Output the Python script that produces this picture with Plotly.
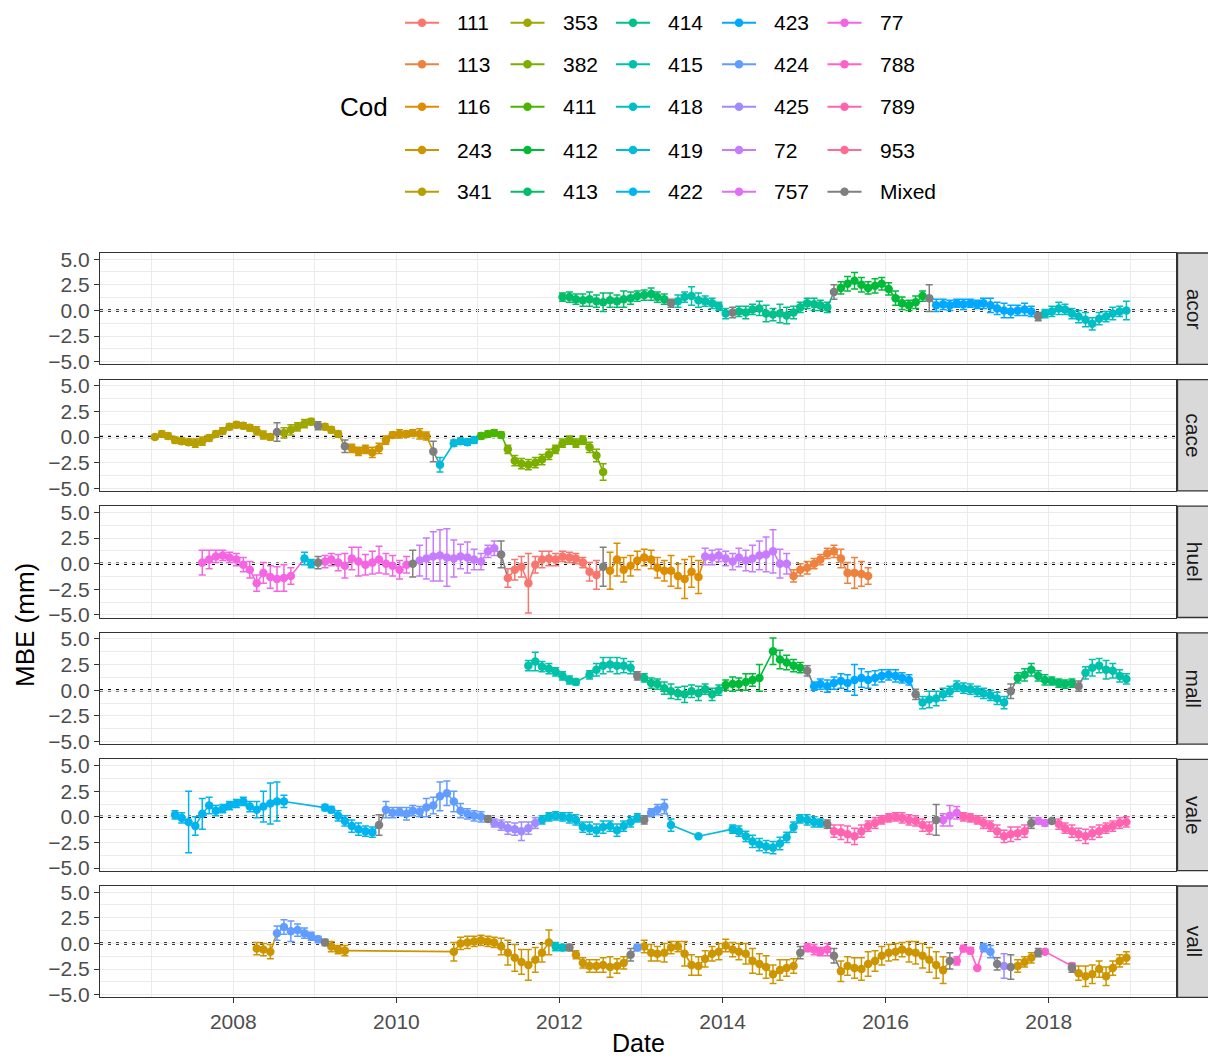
import math
import pandas as pd
import plotly.graph_objects as go

# ---------------- data ----------------
cods = ["111", "113", "116", "243", "341", "353", "382", "411", "412", "413", "414", "415",
        "418", "419", "422", "423", "424", "425", "72", "757", "77", "788", "789", "953", "Mixed"]
sites = ["acor", "cace", "huel", "mall", "vale", "vall"]

acor_cod = ["413", "Mixed", "415", "Mixed", "414", "Mixed", "412", "Mixed", "423", "Mixed", "418"]
acor_start = ["2012-01", "2013-05", "2013-06", "2014-02", "2014-03", "2015-05", "2015-06", "2016-07",
              "2016-08", "2017-11", "2017-12"]
acor_mbe = [[1.3, 1.3, 1.1, 1.0, 1.1, 0.9, 0.8, 1.0, 0.9, 1.1, 1.2, 1.4, 1.5, 1.6, 1.3, 1.1],
            [0.7],
            [0.9, 1.3, 1.4, 1.0, 0.9, 0.7, 0.4, -0.3],
            [-0.2],
            [-0.1, -0.2, 0.1, 0.2, -0.3, -0.4, -0.3, -0.5, -0.2, 0.3, 0.7, 0.6, 0.5, 0.3],
            [1.8],
            [2.2, 2.6, 2.9, 2.5, 2.2, 2.4, 2.6, 2.1, 1.2, 0.7, 0.5, 0.8, 1.4],
            [1.2],
            [0.5, 0.6, 0.5, 0.7, 0.6, 0.7, 0.6, 0.7, 0.5, 0.2, 0.0, -0.1, 0.0, 0.1, -0.1],
            [-0.6],
            [-0.3, -0.1, 0.2, 0.1, -0.3, -0.6, -0.9, -1.3, -0.8, -0.6, -0.3, -0.1, 0.0]]
acor_sd = [[0.4, 0.5, 0.5, 0.6, 0.7, 0.6, 0.9, 0.7, 0.6, 0.8, 0.6, 0.5, 0.5, 0.6, 0.5, 0.5],
           [0.4],
           [0.6, 0.5, 0.9, 0.7, 0.5, 0.5, 0.4, 0.5],
           [0.5],
           [0.5, 0.6, 0.5, 0.7, 0.8, 0.6, 0.9, 0.8, 0.6, 0.5, 0.5, 0.6, 0.5, 0.5],
           [0.7],
           [0.6, 0.7, 0.8, 0.7, 0.6, 0.7, 0.6, 0.6, 0.7, 0.6, 0.5, 0.6, 0.5],
           [1.3],
           [0.6, 0.5, 0.5, 0.4, 0.5, 0.4, 0.4, 0.5, 0.7, 0.6, 0.7, 0.6, 0.5, 0.6, 0.5],
           [0.4],
           [0.4, 0.5, 0.6, 0.5, 0.5, 0.6, 0.7, 0.6, 0.6, 0.5, 0.6, 0.5, 0.9]]

cace_cod = ["341", "Mixed", "353", "Mixed", "341", "Mixed", "243", "Mixed", "419", "419", "411", "382"]
cace_start = ["2007-01", "2008-07", "2008-08", "2009-01", "2009-02", "2009-05", "2009-06", "2010-06",
              "2010-07", "2010-09", "2011-01", "2011-05"]
cace_mbe = [[0.0, 0.3, 0.1, -0.3, -0.4, -0.5, -0.6, -0.4, -0.1, 0.3, 0.6, 1.0, 1.2, 1.1, 0.9, 0.6, 0.2, 0.0],
            [0.5],
            [0.4, 0.7, 1.0, 1.3, 1.5],
            [1.1],
            [1.0, 0.7, 0.3],
            [-0.9],
            [-1.1, -1.4, -1.2, -1.5, -1.1, -0.3, 0.2, 0.3, 0.3, 0.4, 0.3, 0.1],
            [-1.4],
            [-2.7],
            [-0.6, -0.4, -0.5, -0.3],
            [0.1, 0.3, 0.4, 0.2],
            [-1.2, -2.3, -2.6, -2.7, -2.5, -2.2, -1.7, -1.2, -0.6, -0.3, -0.6, -0.3, -1.0, -1.8, -3.4]]
cace_sd = [[0.2, 0.3, 0.3, 0.3, 0.3, 0.3, 0.4, 0.4, 0.3, 0.3, 0.3, 0.3, 0.3, 0.3, 0.3, 0.4, 0.4, 0.3],
           [0.9],
           [0.5, 0.5, 0.4, 0.4, 0.3],
           [0.4],
           [0.3, 0.3, 0.3],
           [0.6],
           [0.4, 0.4, 0.4, 0.5, 0.5, 0.4, 0.3, 0.4, 0.3, 0.3, 0.5, 0.4],
           [1.0],
           [0.7],
           [0.3, 0.3, 0.3, 0.3],
           [0.3, 0.3, 0.3, 0.3],
           [0.4, 0.5, 0.5, 0.5, 0.5, 0.5, 0.5, 0.4, 0.4, 0.4, 0.4, 0.4, 0.5, 0.6, 0.8]]

huel_cod = ["77", "419", "Mixed", "77", "Mixed", "72", "Mixed", "111", "Mixed", "116", "72", "113"]
huel_start = ["2007-08", "2008-11", "2009-01", "2009-02", "2010-03", "2010-04", "2011-04", "2011-05",
              "2012-07", "2012-08", "2013-10", "2014-11"]
huel_mbe = [[0.1, 0.4, 0.7, 0.8, 0.6, 0.4, -0.1, -0.6, -1.9, -0.9, -1.3, -1.5, -1.4, -1.2],
            [0.5, 0.0],
            [0.1],
            [0.2, 0.4, 0.1, -0.2, 0.5, 0.2, -0.1, 0.1, 0.4, 0.0, -0.2, -0.6, -0.1],
            [0.0],
            [0.3, 0.5, 0.7, 0.8, 0.6, 0.5, 0.7, 0.6, 0.4, 0.2, 1.2, 1.5],
            [0.9],
            [-1.4, -0.6, -0.3, -1.9, -0.1, 0.4, 0.5, 0.4, 0.7, 0.6, 0.5, 0.1, -0.8, -1.1],
            [-0.3],
            [-0.7, 0.4, -0.6, -0.2, 0.3, 0.6, 0.4, -0.4, -0.7, -0.7, -1.2, -1.5, -0.8, -1.3],
            [0.7, 0.6, 0.8, 0.5, 0.2, 0.6, 0.3, 0.5, 0.8, 0.9, 1.2, 0.0, 0.0],
            [-1.2, -0.6, -0.4, 0.0, 0.4, 1.0, 1.2, 0.5, -0.9, -0.9, -1.0, -1.2]]
huel_sd = [[1.2, 0.9, 0.6, 0.5, 0.5, 0.6, 0.7, 0.8, 0.8, 1.0, 1.1, 1.2, 1.3, 0.8],
           [0.6, 0.4],
           [0.6],
           [0.6, 0.6, 0.8, 1.2, 1.1, 1.4, 1.0, 1.1, 1.3, 1.0, 1.0, 0.9, 0.8],
           [1.3],
           [1.5, 2.0, 2.4, 2.5, 2.8, 1.8, 1.2, 1.5, 1.0, 0.8, 0.6, 0.7],
           [1.3],
           [0.9, 1.0, 1.0, 2.9, 0.8, 0.8, 0.7, 0.6, 0.5, 0.5, 0.5, 0.5, 0.9, 1.4],
           [1.9],
           [1.8, 1.6, 1.2, 1.0, 0.9, 0.8, 0.9, 1.0, 1.0, 1.5, 1.2, 1.9, 1.5, 1.6],
           [0.8, 0.7, 0.6, 0.7, 0.8, 0.9, 1.0, 1.3, 1.4, 1.7, 2.1, 1.4, 1.0],
           [0.6, 0.6, 0.6, 0.5, 0.5, 0.5, 0.6, 0.9, 1.0, 1.5, 1.2, 0.8]]

mall_cod = ["415", "415", "Mixed", "414", "412", "412", "Mixed", "423", "Mixed", "418", "Mixed", "413",
            "Mixed", "415"]
mall_start = ["2011-08", "2012-05", "2012-12", "2013-01", "2014-01", "2014-08", "2015-01", "2015-02",
              "2016-05", "2016-06", "2017-07", "2017-08", "2018-05", "2018-06"]
mall_mbe = [[2.4, 2.8, 2.3, 2.1, 1.8, 1.4, 1.0, 0.8],
            [1.5, 2.0, 2.4, 2.5, 2.4, 2.4, 2.2],
            [1.4],
            [1.2, 0.7, 0.6, 0.2, -0.1, -0.3, -0.4, -0.1, -0.3, 0.1, -0.4, 0.0],
            [0.5, 0.6, 0.6, 0.8, 1.0, 1.2],
            [3.8, 3.0, 2.7, 2.4, 2.2],
            [1.9],
            [0.4, 0.6, 0.4, 0.7, 0.9, 0.7, 1.0, 1.2, 1.0, 1.2, 1.4, 1.5, 1.4, 1.2, 1.0],
            [-0.4],
            [-1.2, -0.9, -0.8, -0.4, -0.1, 0.4, 0.2, 0.1, -0.1, -0.3, -0.5, -0.8, -1.2],
            [-0.1],
            [1.2, 1.5, 2.0, 1.4, 1.0, 0.9, 0.7, 0.6, 0.7],
            [0.4],
            [1.7, 2.2, 2.4, 2.0, 1.9, 1.4, 1.1]]
mall_sd = [[0.5, 0.9, 0.5, 0.5, 0.4, 0.4, 0.4, 0.3],
           [0.4, 0.6, 0.8, 0.7, 0.8, 0.7, 0.6],
           [0.4],
           [0.4, 0.5, 0.5, 0.6, 0.7, 0.6, 0.8, 0.6, 0.7, 0.5, 0.6, 0.5],
           [0.5, 0.7, 0.6, 0.8, 0.6, 1.3],
           [1.3, 0.9, 0.7, 0.6, 0.5],
           [0.5],
           [0.4, 0.5, 0.6, 0.6, 0.7, 0.8, 1.5, 0.9, 0.8, 0.7, 0.6, 0.5, 0.6, 0.5, 0.5],
           [0.5],
           [0.6, 0.8, 0.7, 0.6, 0.5, 0.5, 0.5, 0.5, 0.5, 0.5, 0.5, 0.6, 0.6],
           [0.7],
           [0.5, 0.6, 0.6, 0.5, 0.5, 0.4, 0.4, 0.4, 0.4],
           [0.5],
           [0.6, 0.8, 0.7, 0.9, 0.7, 0.6, 0.5]]

vale_cod = ["422", "422", "Mixed", "424", "Mixed", "425", "419", "Mixed", "424", "419", "419", "419",
            "Mixed", "789", "Mixed", "757", "789", "Mixed", "757", "Mixed", "789"]
vale_start = ["2007-04", "2009-02", "2009-10", "2009-11", "2011-02", "2011-03", "2011-10", "2013-01",
              "2013-02", "2013-05", "2013-09", "2014-02", "2015-04", "2015-05", "2016-08", "2016-09",
              "2016-12", "2017-10", "2017-11", "2018-01", "2018-02"]
vale_mbe = [[0.2, -0.1, -0.5, -0.9, 0.3, 1.1, 0.6, 0.8, 1.1, 1.3, 1.5, 1.0, 0.7, 1.0, 1.3, 1.5, 1.5],
            [0.9, 0.7, 0.1, -0.4, -0.9, -1.2, -1.4, -1.5],
            [-0.8],
            [0.7, 0.4, 0.5, 0.3, 0.6, 0.5, 0.9, 1.1, 2.0, 2.3, 1.5, 0.6, 0.3, 0.1, 0.0],
            [-0.2],
            [-0.6, -0.8, -1.1, -1.2, -1.4, -1.1, -0.6],
            [-0.3, 0.0, 0.1, 0.0, -0.1, -0.3, -1.0, -1.1, -1.3, -1.0, -0.9, -1.3, -0.9, -0.5, -0.1],
            [-0.3],
            [0.4, 0.7, 1.0],
            [-0.8],
            [-1.9],
            [-1.2, -1.4, -1.9, -2.4, -2.7, -2.9, -3.0, -2.6, -2.0, -1.0, -0.2, -0.3, -0.5, -0.6],
            [-0.7],
            [-1.4, -1.5, -1.7, -1.9, -1.4, -0.9, -0.6, -0.3, -0.1, 0.0, -0.1, -0.3, -0.4, -0.8, -1.1],
            [-0.3],
            [-0.3, 0.1, 0.4],
            [0.0, -0.1, -0.3, -0.6, -0.9, -1.4, -1.9, -1.7, -1.6, -1.4],
            [-0.6],
            [-0.4, -0.6],
            [-0.4],
            [-0.7, -1.1, -1.4, -1.7, -1.9, -1.6, -1.4, -1.1, -0.9, -0.6, -0.5]]
vale_sd = [[0.4, 0.5, 3.0, 0.9, 1.5, 0.8, 0.5, 0.4, 0.4, 0.4, 0.4, 0.5, 0.8, 1.5, 2.0, 1.9, 0.6],
           [0.3, 0.3, 0.5, 0.5, 0.6, 0.6, 0.5, 0.5],
           [1.0],
           [0.8, 0.5, 0.4, 0.6, 0.5, 0.5, 0.9, 0.8, 1.4, 1.2, 1.0, 0.7, 0.5, 0.5, 0.5],
           [0.3],
           [0.4, 0.5, 0.6, 0.6, 0.9, 0.6, 0.5],
           [0.4, 0.4, 0.4, 0.4, 0.5, 0.5, 0.5, 0.6, 0.6, 0.6, 0.5, 0.6, 0.5, 0.5, 0.4],
           [0.4],
           [0.4, 0.5, 0.7],
           [0.6],
           [0.0],
           [0.4, 0.5, 0.5, 0.6, 0.6, 0.6, 0.6, 0.6, 0.5, 0.5, 0.4, 0.5, 0.5, 0.4],
           [0.4],
           [0.6, 0.7, 0.8, 0.8, 0.6, 0.5, 0.5, 0.4, 0.4, 0.4, 0.5, 0.5, 0.5, 0.6, 0.6],
           [1.5],
           [0.6, 1.0, 0.6],
           [0.4, 0.4, 0.4, 0.5, 0.5, 0.6, 0.6, 0.7, 0.6, 0.6],
           [0.5],
           [0.3, 0.3],
           [0.2],
           [0.5, 0.5, 0.6, 0.6, 0.7, 0.6, 0.6, 0.5, 0.5, 0.5, 0.5]]

vall_cod = ["243", "424", "Mixed", "243", "243", "418", "Mixed", "243", "Mixed", "424", "243", "Mixed",
            "788", "Mixed", "243", "Mixed", "788", "424", "Mixed", "425", "Mixed", "243", "Mixed", "788",
            "788", "Mixed", "243"]
vall_start = ["2008-04", "2008-07", "2009-02", "2009-03", "2010-09", "2011-12", "2012-02", "2012-03",
              "2012-11", "2012-12", "2013-01", "2014-12", "2015-01", "2015-05", "2015-06", "2016-10",
              "2016-11", "2017-03", "2017-05", "2017-06", "2017-07", "2017-08", "2017-11", "2017-12",
              "2018-04", "2018-04", "2018-05"]
vall_mbe = [[-0.5, -0.6, -0.8],
            [1.0, 1.6, 1.2, 1.3, 1.0, 0.7, 0.4],
            [0.1],
            [-0.3, -0.6, -0.7],
            [-0.8, 0.0, 0.1, 0.2, 0.3, 0.2, 0.1, -0.3, -0.9, -1.4, -1.8, -2.1, -1.6, -0.9, 0.1],
            [-0.3, -0.4],
            [-0.4],
            [-1.1, -1.9, -2.2, -2.2, -2.1, -2.3, -2.2, -1.9],
            [-1.1],
            [-0.4],
            [-0.3, -0.9, -1.0, -0.9, -0.4, -0.3, -1.0, -2.1, -2.2, -1.5, -1.0, -0.8, -0.2, -0.6, -0.8,
             -1.0, -1.7, -2.0, -2.3, -3.0, -2.6, -2.4, -2.2],
            [-0.9],
            [-0.4, -0.6, -0.8, -0.6],
            [-1.2],
            [-2.7, -2.2, -2.4, -2.5, -2.0, -1.7, -1.2, -0.9, -0.8, -0.6, -0.8, -0.9, -1.2, -1.6, -2.1, -2.6],
            [-1.7],
            [-1.7, -0.5, -0.7, -2.4],
            [-0.4, -0.8],
            [-2.0],
            [-2.2],
            [-2.3],
            [-2.2, -1.8, -1.4],
            [-0.9],
            [-0.8],
            [-2.2],
            [-2.4],
            [-2.9, -3.2, -3.0, -2.5, -3.2, -2.4, -1.7, -1.4]]
vall_sd = [[0.6, 0.6, 0.7],
           [0.7, 0.7, 1.0, 0.6, 0.5, 0.4, 0.3],
           [0.3],
           [0.5, 0.4, 0.5],
           [0.9, 0.6, 0.6, 0.5, 0.5, 0.5, 0.5, 0.8, 1.2, 1.3, 1.2, 1.5, 1.2, 0.9, 1.2],
           [0.4, 0.3],
           [0.3],
           [0.4, 0.5, 0.6, 0.6, 0.7, 1.0, 0.7, 0.6],
           [0.6],
           [0.3],
           [0.6, 0.8, 0.7, 0.9, 0.6, 0.5, 1.2, 1.0, 0.9, 0.8, 0.7, 0.8, 0.6, 0.7, 0.8, 1.0, 1.2, 1.0,
            1.1, 0.9, 1.0, 0.8, 0.7],
           [0.6],
           [0.4, 0.5, 0.4, 0.6],
           [0.7],
           [1.0, 0.9, 1.0, 1.1, 1.2, 1.0, 0.9, 0.8, 0.8, 0.7, 1.0, 1.1, 1.2, 1.2, 1.3, 1.3],
           [0.8],
           [0.4, 0.3, 0.3, 0.0],
           [0.4, 0.6],
           [0.6],
           [1.2],
           [1.2],
           [0.6, 0.5, 0.5],
           [0.4],
           [0.2],
           [0.3],
           [0.4],
           [0.7, 1.0, 0.9, 0.8, 0.9, 0.7, 0.6, 0.6]]

site_cod = [acor_cod, cace_cod, huel_cod, mall_cod, vale_cod, vall_cod]
site_start = [acor_start, cace_start, huel_start, mall_start, vale_start, vall_start]
site_mbe = [acor_mbe, cace_mbe, huel_mbe, mall_mbe, vale_mbe, vall_mbe]
site_sd = [acor_sd, cace_sd, huel_sd, mall_sd, vale_sd, vall_sd]


# ---------------- colours (ggplot2 hue palette) ----------------
def hcl_hex(h, c=100.0, l=65.0):
    hr = math.radians(h)
    U, V = c * math.cos(hr), c * math.sin(hr)
    Xn, Yn, Zn = 0.95047, 1.0, 1.08883
    den = Xn + 15 * Yn + 3 * Zn
    un, vn = 4 * Xn / den, 9 * Yn / den
    Y = ((l + 16) / 116) ** 3 if l > 8 else l / 903.3
    u = U / (13 * l) + un
    v = V / (13 * l) + vn
    X = Y * 9 * u / (4 * v)
    Z = Y * (12 - 3 * u - 20 * v) / (4 * v)
    rgb = [3.240479 * X - 1.537150 * Y - 0.498535 * Z,
           -0.969256 * X + 1.875992 * Y + 0.041556 * Z,
           0.055648 * X - 0.204043 * Y + 1.057311 * Z]
    out = []
    for ch in rgb:
        if ch <= 0:
            ch = 0.0
        elif ch <= 0.0031308:
            ch = 12.92 * ch
        else:
            ch = 1.055 * (ch ** (1 / 2.4)) - 0.055
        ch = min(1.0, max(0.0, ch))
        out.append(int(round(ch * 255)))
    return "#%02X%02X%02X" % tuple(out)


n_hue = len(cods) - 1
colors = {cd: hcl_hex(15 + 360.0 * i / n_hue) for i, cd in enumerate(cods[:-1])}
colors["Mixed"] = "#7F7F7F"

# ---------------- build long table ----------------
rows = []
seq = 0
for s, site in enumerate(sites):
    for cd, st, vals, sds in zip(site_cod[s], site_start[s], site_mbe[s], site_sd[s]):
        dates = pd.date_range(start=st + "-01", periods=len(vals), freq="MS") + pd.Timedelta(days=14)
        for d, v, e in zip(dates, vals, sds):
            rows.append(dict(site=site, cod=cd, date=d, mbe=v, sd=e, seq=seq))
            seq += 1
df = pd.DataFrame(rows).sort_values(["date", "seq"], kind="mergesort")

# ---------------- figure ----------------
W, H = 1208, 1059
PX0, PX1 = 100, 1175.5
TOP0, STEP, PH = 253.0, 126.6, 111.3
FONT = "Liberation Sans, Arial, Helvetica, sans-serif"

fig = go.Figure()
layout = dict(width=W, height=H, autosize=False,
              margin=dict(l=0, r=0, t=0, b=0, pad=0, autoexpand=False),
              paper_bgcolor="white", plot_bgcolor="rgba(0,0,0,0)", showlegend=False,
              font=dict(family=FONT, size=21, color="#4D4D4D"))
shapes, annotations = [], []
line_traces, point_traces = [], []

for i, site in enumerate(sites):
    k = i + 1
    xa, ya = ("x" if k == 1 else "x%d" % k), ("y" if k == 1 else "y%d" % k)
    top = TOP0 + i * STEP
    dom_y = [1 - (top + PH) / H, 1 - top / H]
    bottom = (i == len(sites) - 1)
    layout["xaxis" if k == 1 else "xaxis%d" % k] = dict(
        domain=[PX0 / W, PX1 / W], anchor=ya, type="date", automargin=False,
        range=["2006-05-14", "2019-07-23"],
        tick0="2008-01-01", dtick="M24", tickformat="%Y",
        showgrid=True, gridcolor="#EBEBEB", gridwidth=1.2,
        minor=dict(dtick="M12", tick0="2007-01-01", showgrid=True, gridcolor="#EBEBEB", gridwidth=0.6),
        showline=True, linecolor="#333333", linewidth=1.3, mirror=True,
        ticks="outside" if bottom else "", ticklen=5, tickwidth=1.2, tickcolor="#333333",
        showticklabels=bottom, tickfont=dict(size=21, color="#4D4D4D"),
        zeroline=False, fixedrange=True)
    layout["yaxis" if k == 1 else "yaxis%d" % k] = dict(
        domain=dom_y, anchor=xa, range=[-5.25, 5.6], automargin=False,
        tick0=0, dtick=2.5, tickformat=".1f",
        showgrid=True, gridcolor="#EBEBEB", gridwidth=1.2,
        minor=dict(dtick=1.25, tick0=0, showgrid=True, gridcolor="#EBEBEB", gridwidth=0.6),
        showline=True, linecolor="#333333", linewidth=1.3, mirror=True,
        ticks="outside", ticklen=5, tickwidth=1.2, tickcolor="#333333",
        tickfont=dict(size=21, color="#4D4D4D"), zeroline=False, fixedrange=True)

    # dotted zero reference line
    shapes.append(dict(type="line", xref=xa + " domain", yref=ya, x0=0, x1=1, y0=0, y1=0,
                       line=dict(color="black", width=2.5, dash="3px,5px"), layer="below"))
    # facet strip
    shapes.append(dict(type="rect", xref="paper", yref="paper", x0=1177.5 / W, x1=1.01,
                       y0=dom_y[0], y1=dom_y[1], fillcolor="#D9D9D9",
                       line=dict(color="#333333", width=1.3), layer="above"))
    annotations.append(dict(text=site, xref="paper", yref="paper", x=1194 / W, y=(dom_y[0] + dom_y[1]) / 2,
                            showarrow=False, textangle=90, xanchor="center", yanchor="middle",
                            font=dict(size=21, color="#1A1A1A", family=FONT)))

    sub = df[df.site == site].reset_index(drop=True)
    # path through all points in time order; each segment takes the colour of its start point
    seg_x = {cd: [] for cd in cods}
    seg_y = {cd: [] for cd in cods}
    for r in range(len(sub) - 1):
        cd = sub.loc[r, "cod"]
        seg_x[cd] += [sub.loc[r, "date"], sub.loc[r + 1, "date"], None]
        seg_y[cd] += [sub.loc[r, "mbe"], sub.loc[r + 1, "mbe"], None]
    for cd in cods:
        if seg_x[cd]:
            line_traces.append(go.Scatter(
                x=seg_x[cd], y=seg_y[cd], xaxis=xa, yaxis=ya, mode="lines",
                line=dict(color=colors[cd], width=1.6), hoverinfo="skip", connectgaps=False))
        g = sub[sub.cod == cd]
        if g.empty:
            continue
        point_traces.append(go.Scatter(
            x=g["date"], y=g["mbe"], xaxis=xa, yaxis=ya, mode="markers",
            marker=dict(color=colors[cd], size=8.5),
            error_y=dict(type="data", array=g["sd"].tolist(), visible=True, color=colors[cd],
                         thickness=1.5, width=3.5),
            name=cd, hoverinfo="skip"))

for t in line_traces + point_traces:
    fig.add_trace(t)

# ---------------- manual legend (5 columns, column-major) ----------------
layout["xaxis7"] = dict(domain=[0, 1], range=[0, W], visible=False, fixedrange=True, anchor="y7",
                        automargin=False)
layout["yaxis7"] = dict(domain=[0, 1], range=[H, 0], visible=False, fixedrange=True, anchor="x7",
                        automargin=False)
col_sym = [422, 527.5, 633, 739, 844.5]
row_y = [22.7, 64.3, 106.7, 150, 191.7]
for j, cd in enumerate(cods):
    c, r = j // 5, j % 5
    sx, sy = col_sym[c], row_y[r]
    col = colors[cd]
    fig.add_trace(go.Scatter(x=[sx - 17, sx, sx + 17], y=[sy, sy, sy], xaxis="x7", yaxis="y7",
                             mode="lines", line=dict(color=col, width=2), hoverinfo="skip"))
    fig.add_trace(go.Scatter(x=[sx], y=[sy], xaxis="x7", yaxis="y7", mode="markers",
                             marker=dict(color=col, size=8.5), hoverinfo="skip"))
    annotations.append(dict(text=cd, xref="paper", yref="paper", x=(sx + 33) / W, y=1 - sy / H,
                            showarrow=False, xanchor="left", yanchor="middle",
                            font=dict(size=21, color="black", family=FONT)))
annotations.append(dict(text="Cod", xref="paper", yref="paper", x=338 / W, y=1 - 106.7 / H,
                        showarrow=False, xanchor="left", yanchor="middle",
                        font=dict(size=26, color="black", family=FONT)))

# axis titles
annotations.append(dict(text="MBE (mm)", xref="paper", yref="paper", x=25 / W, y=1 - 625 / H,
                        showarrow=False, textangle=-90, xanchor="center", yanchor="middle",
                        font=dict(size=26, color="black", family=FONT)))
annotations.append(dict(text="Date", xref="paper", yref="paper", x=638 / W, y=1 - 1043 / H,
                        showarrow=False, xanchor="center", yanchor="middle",
                        font=dict(size=25, color="black", family=FONT)))

layout["shapes"] = shapes
layout["annotations"] = annotations
fig.update_layout(**layout)
fig.write_html("out.html")
